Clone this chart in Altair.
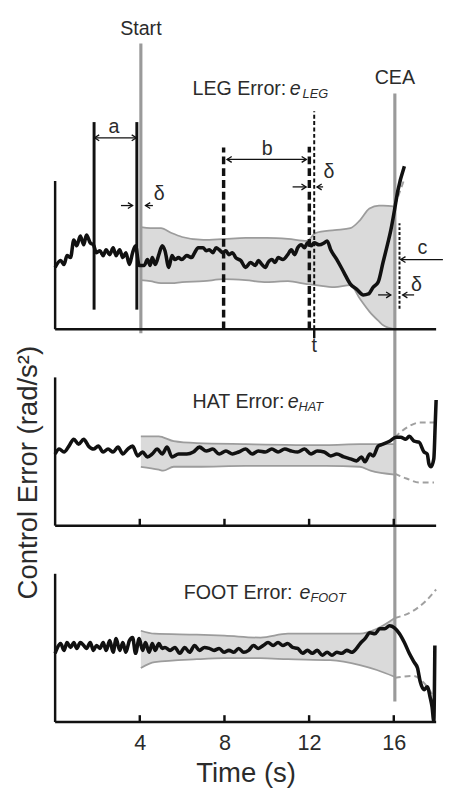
import altair as alt
import pandas as pd

# ---------------- values ----------------
x_ticks = [4, 8, 12, 16]
start_time = 4.05
cea_time = 16.05

# LEG error trace
leg_t = [0.0, 0.26, 0.42, 0.56, 0.73, 0.88, 1.02, 1.19, 1.35, 1.48,
         1.66, 1.81, 1.95, 2.12, 2.27, 2.41, 2.58, 2.74, 2.88, 3.05,
         3.2, 3.34, 3.51, 3.66, 3.8, 3.97, 4.21, 4.36, 4.49, 4.59,
         4.73, 4.9, 5.06, 5.19, 5.37, 5.52, 5.66, 5.83, 5.98, 6.22,
         6.45, 6.59, 6.76, 6.99, 7.14, 7.28, 7.45, 7.61, 7.75, 7.92,
         8.07, 8.21, 8.38, 8.53, 8.77, 9.0, 9.23, 9.46, 9.6, 9.77,
         9.93, 10.06, 10.24, 10.39, 10.53, 10.76, 10.99, 11.16, 11.32, 11.46,
         11.63, 11.78, 11.92, 12.09, 12.24, 12.48, 12.71, 12.85, 13.02, 13.31,
         13.64, 13.95, 14.24, 14.56, 14.8, 15.03, 15.26, 15.49, 15.72, 15.86,
         16.03, 16.19, 16.5]
leg_v = [6.3, 7.0, 6.6, 7.5, 7.3, 9.1, 8.5, 9.5, 8.6, 9.6,
         8.8, 8.6, 7.8, 8.0, 7.5, 8.1, 7.6, 8.3, 7.5, 8.1,
         7.3, 7.8, 6.6, 7.8, 8.5, 6.5, 6.5, 7.1, 6.5, 7.3,
         6.6, 7.6, 8.5, 8.0, 6.3, 7.5, 7.1, 7.3, 7.1, 7.5,
         7.3, 7.8, 8.3, 8.3, 8.0, 8.1, 7.8, 8.3, 8.1, 7.8,
         8.0, 7.6, 7.8, 7.3, 7.0, 6.3, 6.8, 6.5, 7.0, 6.6,
         6.3, 6.8, 7.1, 6.8, 7.3, 7.1, 7.6, 8.1, 7.6, 8.3,
         8.6, 8.3, 8.8, 8.5, 8.8, 8.6, 8.8, 9.0, 8.1, 7.1,
         5.8, 4.6, 4.1, 3.5, 3.6, 4.3, 4.8, 6.8, 8.8, 10.1,
         12.1, 14.1, 16.6]

# HAT error trace
hat_t = [0.0, 0.19, 0.42, 0.65, 0.88, 1.11, 1.35, 1.58, 1.81, 2.04,
         2.27, 2.5, 2.74, 2.97, 3.2, 3.43, 3.66, 3.9, 4.13, 4.36,
         4.59, 4.82, 5.06, 5.29, 5.52, 5.83, 6.22, 6.53, 6.82, 7.14,
         7.45, 7.75, 8.07, 8.38, 8.67, 9.0, 9.31, 9.6, 9.93, 10.24,
         10.53, 10.85, 11.16, 11.46, 11.78, 12.09, 12.38, 12.71, 13.02, 13.31,
         13.64, 13.95, 14.24, 14.47, 14.64, 14.87, 15.03, 15.26, 15.49, 15.8,
         16.1, 16.33, 16.56, 16.73, 16.96, 17.19, 17.43, 17.58, 17.66, 17.76,
         17.89, 17.96, 18.0]
hat_v = [7.3, 7.8, 7.5, 8.1, 8.8, 8.3, 8.8, 8.1, 7.8, 8.1,
         7.5, 7.8, 7.5, 8.0, 7.3, 7.8, 8.1, 7.1, 7.5, 7.0,
         7.3, 7.8, 7.3, 8.0, 7.0, 7.3, 7.3, 7.5, 8.0, 7.6,
         7.8, 7.3, 7.6, 7.3, 7.5, 7.8, 7.3, 7.6, 7.5, 7.8,
         7.5, 7.8, 7.6, 7.5, 7.8, 7.3, 7.6, 7.5, 7.1, 7.3,
         7.0, 6.8, 6.6, 7.0, 6.5, 7.3, 7.1, 8.1, 8.3, 8.6,
         9.0, 9.0, 8.8, 9.1, 8.6, 8.5, 7.5, 7.3, 6.3, 6.0,
         6.8, 10.5, 12.8]

# FOOT error trace
foot_t = [0.0, 0.09, 0.26, 0.42, 0.56, 0.73, 0.88, 1.02, 1.19, 1.35,
          1.48, 1.66, 1.81, 1.95, 2.12, 2.27, 2.41, 2.58, 2.74, 2.88,
          3.05, 3.2, 3.34, 3.51, 3.66, 3.8, 3.97, 4.13, 4.27, 4.44,
          4.59, 4.73, 4.9, 5.06, 5.19, 5.43, 5.66, 5.89, 6.12, 6.35,
          6.59, 6.82, 7.05, 7.28, 7.51, 7.75, 7.98, 8.21, 8.44, 8.67,
          8.91, 9.14, 9.37, 9.6, 9.83, 10.06, 10.3, 10.53, 10.76, 10.99,
          11.22, 11.46, 11.69, 11.92, 12.15, 12.38, 12.62, 12.85, 13.08, 13.31,
          13.54, 13.78, 14.01, 14.24, 14.41, 14.64, 14.87, 15.11, 15.34, 15.57,
          15.8, 16.03, 16.27, 16.5, 16.73, 16.96, 17.12, 17.25, 17.43, 17.58,
          17.72, 17.81, 17.89, 17.94]
foot_v = [7.0, 7.5, 8.0, 7.3, 8.1, 7.6, 8.1, 7.5, 8.1, 7.8,
          7.5, 8.1, 7.3, 7.8, 7.5, 8.1, 7.3, 8.3, 7.1, 8.5,
          7.3, 8.1, 7.1, 8.3, 8.6, 7.0, 8.5, 7.3, 8.1, 7.1,
          8.0, 7.3, 8.0, 7.5, 7.6, 7.3, 7.6, 7.0, 7.6, 7.1,
          7.8, 7.3, 7.6, 7.5, 7.3, 7.5, 7.1, 7.3, 7.1, 7.5,
          7.1, 7.3, 7.8, 7.5, 7.8, 8.1, 7.8, 8.1, 7.8, 8.0,
          7.6, 7.5, 7.0, 7.3, 7.0, 7.3, 6.8, 7.1, 6.8, 7.1,
          7.0, 7.3, 7.1, 7.5, 8.0, 8.5, 9.1, 9.0, 9.5, 9.5,
          9.8, 9.6, 9.0, 8.1, 7.0, 6.1, 5.5, 4.1, 3.3, 3.6,
          2.5, 1.5, 0.1, 7.8]

# confidence bands (start -> CEA)
leg_band_t = [4.05, 4.5, 5.0, 5.5, 6.0, 7.0, 8.0, 9.0, 10.0, 11.0,
              11.9, 12.3, 13.2, 13.95, 14.4, 14.85, 15.3, 15.5, 16.05]
leg_band_hi = [10.4, 10.3, 10.3, 9.8, 9.4, 9.1, 9.2, 9.3, 9.3, 9.2,
               9.0, 9.8, 10.1, 10.3, 11.1, 12.3, 12.6, 12.6, 12.5]
leg_band_lo = [5.0, 4.9, 4.7, 4.7, 4.8, 4.9, 5.1, 5.0, 4.8, 4.9,
               4.6, 4.5, 4.3, 4.5, 3.1, 1.8, 0.8, 0.4, 0.0]

hat_band_t = [4.05, 4.9, 5.1, 5.6, 6.7, 9.0, 12.8, 14.4, 14.9, 16.05]
hat_band_hi = [9.1, 9.1, 9.0, 8.6, 8.4, 8.3, 8.2, 8.3, 8.3, 8.3]
hat_band_lo = [6.0, 5.7, 5.6, 6.0, 6.0, 6.1, 6.1, 6.0, 5.6, 5.2]

foot_band_t = [4.05, 4.7, 6.7, 8.0, 9.7, 11.0, 13.0, 14.4, 15.2, 16.05]
foot_band_hi = [9.3, 9.0, 8.9, 8.8, 8.6, 9.0, 9.0, 9.0, 9.5, 10.6]
foot_band_lo = [5.5, 6.1, 6.4, 6.5, 6.5, 6.4, 6.3, 5.8, 5.3, 4.6]

# band continuation after CEA (dashed)
leg_ext_up_t = [16.05, 16.5]
leg_ext_up_v = [12.6, 15.3]
hat_ext_up_t = [16.05, 16.7, 17.2, 17.9]
hat_ext_up_v = [9.0, 10.1, 10.5, 10.5]
hat_ext_lo_t = [16.05, 16.6, 17.2, 17.9]
hat_ext_lo_v = [5.3, 4.8, 4.4, 4.4]
foot_ext_up_t = [16.05, 16.9, 17.5, 18.0]
foot_ext_up_v = [10.6, 11.3, 12.3, 13.5]
foot_ext_lo_t = [16.05, 16.9, 17.5, 17.9]
foot_ext_lo_v = [4.5, 4.7, 3.8, 2.5]

# ---------------- layout (stacked panels in one coordinate system) ----------------
OFFSET = {"LEG": 40, "HAT": 20, "FOOT": 0}
AX_TOP = 15.1
FONT = "Liberation Sans"
TXT = "#2b2b2b"


def series(name, key, t, v):
    return pd.DataFrame({"t": t, "y": [a + OFFSET[name] for a in v], "key": key})


curves = pd.concat([series("LEG", "LEG", leg_t, leg_v),
                    series("HAT", "HAT", hat_t, hat_v),
                    series("FOOT", "FOOT", foot_t, foot_v)])

bands = pd.concat([
    pd.DataFrame({"t": bt, "hi": [h + OFFSET[n] for h in bh],
                  "lo": [l + OFFSET[n] for l in bl], "key": n})
    for n, bt, bh, bl in [("LEG", leg_band_t, leg_band_hi, leg_band_lo),
                          ("HAT", hat_band_t, hat_band_hi, hat_band_lo),
                          ("FOOT", foot_band_t, foot_band_hi, foot_band_lo)]])

edges = pd.concat([
    series("LEG", "LEGu", leg_band_t, leg_band_hi), series("LEG", "LEGl", leg_band_t, leg_band_lo),
    series("HAT", "HATu", hat_band_t, hat_band_hi), series("HAT", "HATl", hat_band_t, hat_band_lo),
    series("FOOT", "FOOTu", foot_band_t, foot_band_hi), series("FOOT", "FOOTl", foot_band_t, foot_band_lo)])

exts = pd.concat([
    series("LEG", "e1", leg_ext_up_t, leg_ext_up_v),
    series("HAT", "e2", hat_ext_up_t, hat_ext_up_v), series("HAT", "e3", hat_ext_lo_t, hat_ext_lo_v),
    series("FOOT", "e4", foot_ext_up_t, foot_ext_up_v), series("FOOT", "e5", foot_ext_lo_t, foot_ext_lo_v)])

xscale = alt.Scale(domain=[0, 18], nice=False, zero=False)
yscale = alt.Scale(domain=[0, 71], nice=False, zero=False)
X = alt.X("t:Q", scale=xscale, title="Time (s)",
          axis=alt.Axis(values=x_ticks, domain=False, ticks=False, grid=False,
                        labelFontSize=22, labelColor=TXT, labelFont=FONT, labelPadding=11,
                        titleFontSize=28, titleFont=FONT, titleColor=TXT, titleFontWeight="normal",
                        titleBaseline="alphabetic", titleY=61))


def Yf(f):
    return alt.Y(f + ":Q", scale=yscale, axis=None)


def rules_df(rows):
    return pd.DataFrame(rows, columns=["t", "t2", "y", "y2"])


def rule_layer(rows, **kw):
    return alt.Chart(rules_df(rows)).mark_rule(**kw).encode(
        x=X, x2="t2:Q", y=Yf("y"), y2="y2:Q")


layers = []
# bands
layers.append(alt.Chart(bands).mark_area(color="#dadada", opacity=1, interpolate="monotone").encode(
    x=X, y=Yf("hi"), y2="lo:Q", detail="key:N"))
layers.append(alt.Chart(edges).mark_line(color="#9c9c9c", strokeWidth=1.8, interpolate="monotone").encode(
    x=X, y=Yf("y"), detail="key:N"))
layers.append(alt.Chart(exts).mark_line(color="#a0a0a0", strokeWidth=2, strokeDash=[6, 4],
                                        interpolate="monotone").encode(
    x=X, y=Yf("y"), detail="key:N"))

# Start / CEA lines
layers.append(rule_layer([[start_time, start_time, 39.6, 69.1],
                          [cea_time, cea_time, 2.1, 64.0]], color="#9a9a9a", strokeWidth=3.2))

# axes lines and ticks
axis_rows = []
for n in OFFSET:
    b = OFFSET[n]
    axis_rows.append([0, 0, b, b + AX_TOP])
    axis_rows.append([0, 18, b, b])
for n in ["HAT", "FOOT"]:
    for tk in x_ticks:
        axis_rows.append([tk, tk, OFFSET[n], OFFSET[n] + 0.7])
axis_rows.append([12.24, 12.24, 39.1, 40])
layers.append(rule_layer(axis_rows, color="#111111", strokeWidth=2.5))

# window markers in LEG panel
layers.append(rule_layer([[1.84, 1.84, 42.0, 61.1], [3.86, 3.86, 42.0, 61.1]],
                         color="#111111", strokeWidth=3))
layers.append(rule_layer([[7.96, 7.96, 40.0, 58.5], [12.01, 12.01, 40.0, 58.6]],
                         color="#111111", strokeWidth=3.5, strokeDash=[8, 4]))
layers.append(rule_layer([[12.24, 12.24, 40.0, 62.2]],
                         color="#111111", strokeWidth=2, strokeDash=[4, 2.5]))
layers.append(rule_layer([[16.27, 16.27, 42.1, 50.8]],
                         color="#111111", strokeWidth=2, strokeDash=[3, 2]))

# arrow shafts
layers.append(rule_layer([[1.86, 3.84, 59.5, 59.5],
                          [3.11, 3.66, 52.6, 52.6], [4.27, 4.62, 52.6, 52.6],
                          [8.12, 11.87, 57.3, 57.3],
                          [11.22, 11.86, 54.5, 54.5], [12.37, 12.66, 54.5, 54.5],
                          [16.33, 18.32, 47.1, 47.1],
                          [15.26, 15.86, 43.5, 43.5], [16.42, 16.96, 43.5, 43.5]],
                         color="#111111", strokeWidth=1.3))
heads_r = pd.DataFrame({"t": [3.84, 3.66, 11.87, 11.86, 15.86],
                        "y": [59.5, 52.6, 57.3, 54.5, 43.5]})
heads_l = pd.DataFrame({"t": [1.86, 4.27, 8.12, 12.37, 16.33, 16.42],
                        "y": [59.5, 52.6, 57.3, 54.5, 47.1, 43.5]})
layers.append(alt.Chart(heads_r).mark_point(shape="M-1.6,-1L0,0L-1.6,1", size=36, filled=False,
                                            stroke="#111111", strokeWidth=1.3, opacity=1).encode(
    x=X, y=Yf("y")))
layers.append(alt.Chart(heads_l).mark_point(shape="M1.6,-1L0,0L1.6,1", size=36, filled=False,
                                            stroke="#111111", strokeWidth=1.3, opacity=1).encode(
    x=X, y=Yf("y")))

# error traces
layers.append(alt.Chart(curves).mark_line(color="#111111", strokeWidth=3.6, strokeJoin="round",
                                          interpolate="monotone").encode(
    x=X, y=Yf("y"), detail="key:N"))

# texts
lab = pd.DataFrame({
    "t": [4.05, 16.05, 2.78, 10.02, 17.35, 4.92, 12.94, 17.07, 12.24],
    "y": [70.6, 65.6, 60.6, 58.3, 48.3, 53.8, 56.0, 44.5, 38.3],
    "label": ["Start", "CEA", "a", "b", "c", "δ", "δ", "δ", "t"]})
layers.append(alt.Chart(lab).mark_text(fontSize=20, font=FONT, color=TXT, align="center",
                                       baseline="middle").encode(x=X, y=Yf("y"), text="label:N"))

ptitle = pd.DataFrame({"t": [6.49, 6.49, 6.08], "y": [63.9, 32.0, 12.5],
                       "label": ["LEG Error:", "HAT Error:", "FOOT Error:"]})
layers.append(alt.Chart(ptitle).mark_text(fontSize=20, font=FONT, color=TXT, align="left",
                                          baseline="alphabetic").encode(x=X, y=Yf("y"), text="label:N"))
pe = pd.DataFrame({"t": [11.09, 10.99, 11.55], "y": [63.9, 32.0, 12.5], "label": ["e", "e", "e"]})
layers.append(alt.Chart(pe).mark_text(fontSize=20, font=FONT, color=TXT, fontStyle="italic", align="left",
                                      baseline="alphabetic").encode(x=X, y=Yf("y"), text="label:N"))
psub = pd.DataFrame({"t": [11.69, 11.5, 12.06], "y": [63.6, 31.7, 12.2], "label": ["LEG", "HAT", "FOOT"]})
layers.append(alt.Chart(psub).mark_text(fontSize=13, font=FONT, color=TXT, fontStyle="italic", align="left",
                                        baseline="alphabetic").encode(x=X, y=Yf("y"), text="label:N"))

ytitle = pd.DataFrame({"t": [-1.21], "y": [25.4], "label": ["Control Error (rad/s²)"]})
layers.append(alt.Chart(ytitle).mark_text(fontSize=28, font=FONT, color=TXT, angle=270, align="center",
                                          baseline="middle").encode(x=X, y=Yf("y"), text="label:N"))

chart = alt.layer(*layers).properties(
    width=388, height=710,
    padding={"left": 48, "top": 10, "right": 7, "bottom": 62},
    autosize=alt.AutoSizeParams(type="none"),
).configure_view(stroke=None)

chart.save("out.html", embed_options={"renderer": "svg", "actions": False})
